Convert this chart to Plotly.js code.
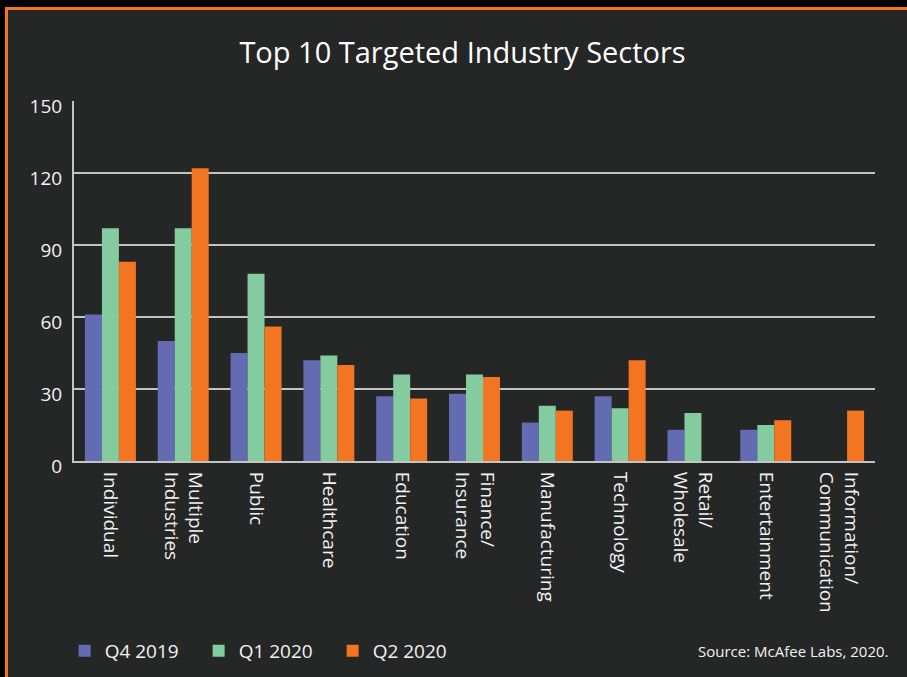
<!DOCTYPE html>
<html>
<head>
<meta charset="utf-8">
<script src="https://cdn.plot.ly/plotly-3.0.1.min.js"></script>
<style>
  html, body { margin: 0; padding: 0; background: #000; overflow: hidden; }
  #frame { position: absolute; left: 5px; top: 7px; width: 920px; height: 700px;
           border-left: 3px solid #f37521; border-top: 3px solid #f37521; background: #252626; }
  #chart { position: absolute; left: 0; top: 0; width: 899px; height: 667px; }
</style>
</head>
<body>
<div id="frame"><div id="chart"></div></div>
<script>
const categories = ["Individual", "Multiple<br>Industries", "Public", "Healthcare", "Education",
  "Finance/<br>Insurance", "Manufacturing", "Technology", "Retail/<br>Wholesale", "Entertainment",
  "Information/<br>Communication"];
const seriesNames = ["Q4 2019", "Q1 2020", "Q2 2020"];
const q4_2019 = [61, 50, 45, 42, 27, 28, 16, 27, 13, 13, null];
const q1_2020 = [97, 97, 78, 44, 36, 36, 23, 22, 20, 15, null];
const q2_2020 = [83, 122, 56, 40, 26, 35, 21, 42, null, 17, 21];
const yTicks = [0, 30, 60, 90, 120, 150];
const colors = ["#636cb2", "#85cba0", "#f37521"];

const fontFam = '"Open Sans", "Noto Sans", sans-serif';
const values = [q4_2019, q1_2020, q2_2020];
const traces = values.map((v, i) => ({
  type: 'bar', name: seriesNames[i], x: categories, y: v,
  marker: { color: colors[i] }, hoverinfo: 'x+y'
}));

const layout = {
  width: 899, height: 667,
  paper_bgcolor: '#252626', plot_bgcolor: '#252626',
  margin: { l: 66, r: 32, t: 91, b: 216 },
  font: { family: fontFam, color: '#f2f2f2', size: 19 },
  title: { text: 'Top 10 Targeted Industry Sectors', font: { family: fontFam, size: 29, color: '#ffffff' },
           xref: 'container', x: 0.5056, xanchor: 'center', yref: 'container', y: 0.936, yanchor: 'middle' },
  bargap: 0.3, bargroupgap: 0,
  xaxis: { type: 'category', tickangle: 90, showline: true, linecolor: '#c4c4c4', linewidth: 2,
           ticks: '', showgrid: false, ticklabelstandoff: 5, tickfont: { size: 19, color: '#f2f2f2' }, fixedrange: true },
  yaxis: { range: [0, 150], tickvals: yTicks, showline: true, linecolor: '#c4c4c4', linewidth: 2,
           gridcolor: '#c4c4c4', gridwidth: 2, zeroline: false, ticks: '', ticklabelstandoff: 6, ticklabelshift: 5,
           tickfont: { size: 19, color: '#f2f2f2' }, fixedrange: true },
  showlegend: true,
  legend: { orientation: 'h', xref: 'container', x: 0.063, xanchor: 'left', yref: 'container', y: 0.039, yanchor: 'middle',
            font: { size: 19, color: '#f2f2f2' }, entrywidth: 89, entrywidthmode: 'pixels', bgcolor: 'rgba(0,0,0,0)' },
  annotations: [{ text: 'Source: McAfee Labs, 2020.', xref: 'paper', yref: 'paper', x: 1.02, y: -0.528,
                  xanchor: 'right', yanchor: 'middle', showarrow: false, font: { size: 15, color: '#f2f2f2' } }]
};

Plotly.newPlot('chart', traces, layout, { displayModeBar: false });
</script>
</body>
</html>
